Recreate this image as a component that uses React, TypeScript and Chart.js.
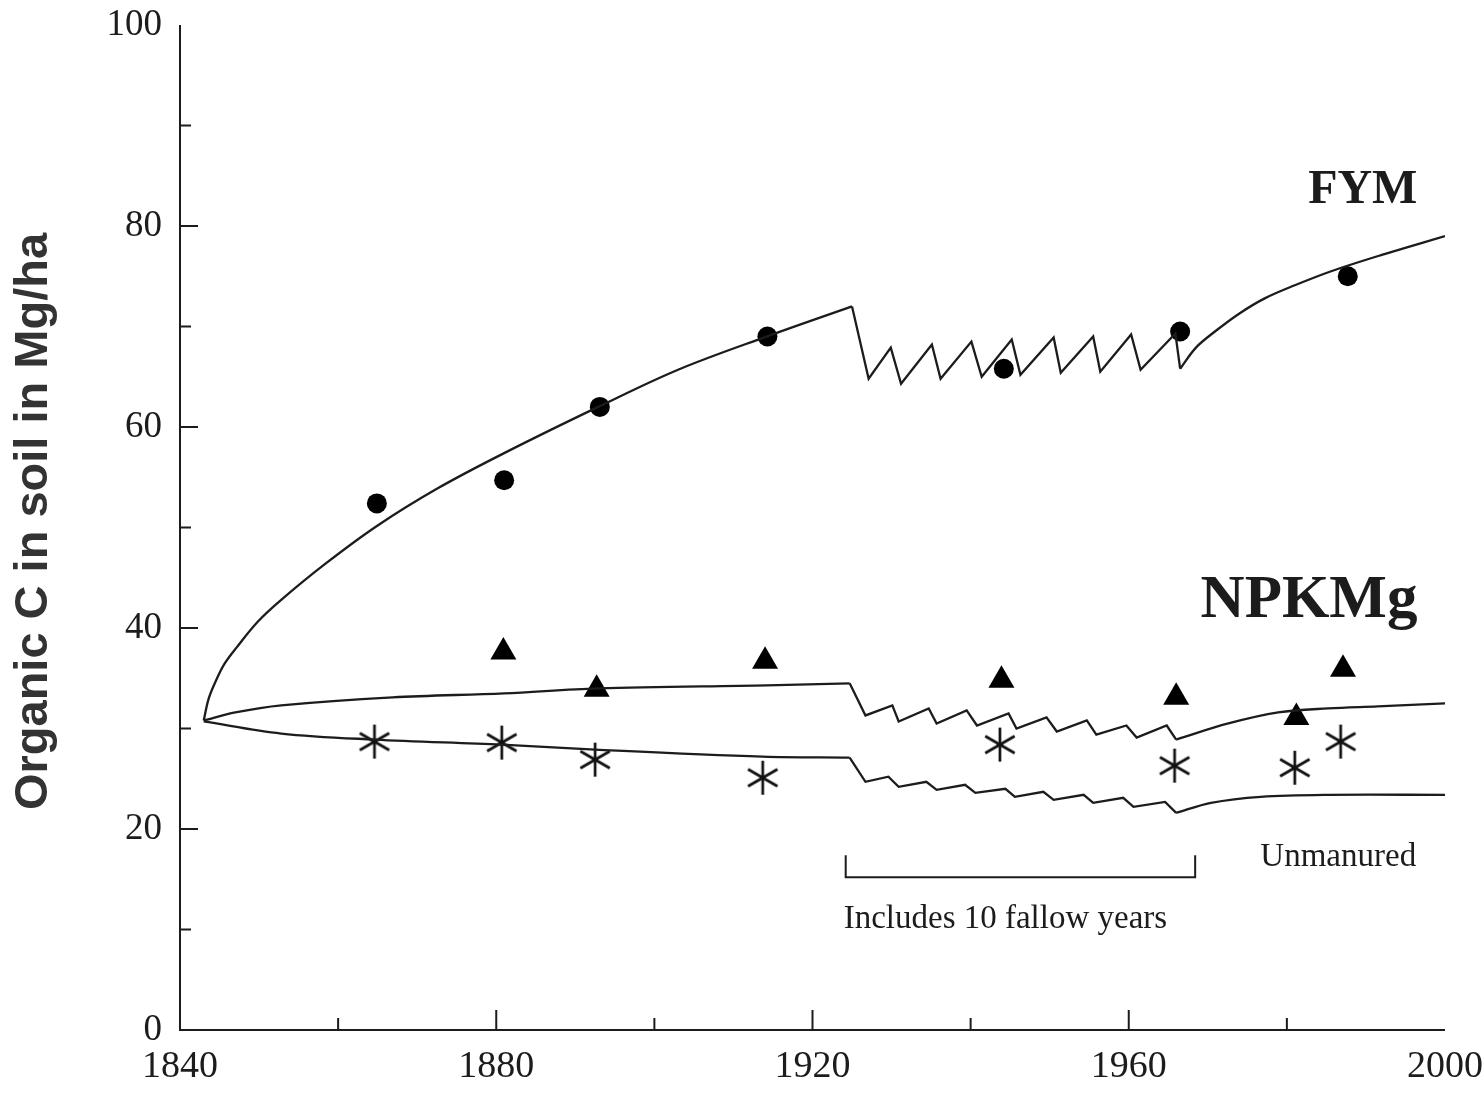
import React, { useEffect, useRef } from "react";
import { Chart, registerables } from "chart.js";

Chart.register(...registerables);

// ---- Model curves: [year, organic C (Mg/ha)] ----
const fymEarly = [
  [1843, 30.8], [1843.6, 32.9], [1844.4, 34.5], [1845.6, 36.4], [1847.2, 38.1],
  [1849.8, 40.6], [1852.8, 42.8], [1858.4, 46.4], [1865, 50.2], [1872.6, 53.9],
  [1881, 57.4], [1892.9, 62.0], [1903, 65.7], [1914.2, 69.0], [1925, 72.0],
];
const fymFallow = [
  [1925, 72.0], [1927.1, 64.8], [1929.9, 67.9], [1931.2, 64.3], [1935.1, 68.2],
  [1936.2, 64.8], [1940.1, 68.5], [1941.4, 65.0], [1945.2, 68.7], [1946.3, 65.2],
  [1950.5, 68.9], [1951.4, 65.4], [1955.5, 69.0], [1956.4, 65.5], [1960.3, 69.2],
  [1961.5, 65.7], [1965.9, 69.3], [1966.5, 65.8],
];
const fymLate = [
  [1966.5, 65.8], [1968.5, 67.9], [1970.9, 69.5], [1974, 71.3], [1977.2, 72.8],
  [1981, 74.1], [1985.6, 75.5], [1991.9, 77.1], [2000, 79.0],
];

const npkEarly = [
  [1843, 30.8], [1847, 31.6], [1852.8, 32.3], [1866.9, 33.1], [1881, 33.5],
  [1892.9, 34.0], [1914.2, 34.3], [1924.7, 34.5],
];
const npkFallow = [
  [1924.7, 34.5], [1926.7, 31.3], [1930.1, 32.3], [1930.9, 30.7], [1934.7, 32.0],
  [1935.7, 30.5], [1939.5, 31.8], [1940.8, 30.3], [1944.8, 31.5], [1945.8, 30.0],
  [1949.6, 31.1], [1950.9, 29.7], [1954.7, 30.8], [1955.9, 29.4], [1959.7, 30.3],
  [1961, 29.1], [1964.8, 30.3], [1966, 28.9],
];
const npkLate = [
  [1966, 28.9], [1972.6, 30.5], [1978.9, 31.6], [1985.2, 32.0], [1991.5, 32.2], [2000, 32.5],
];

const unmEarly = [
  [1843, 30.7], [1852.8, 29.5], [1864.6, 28.9], [1880.7, 28.4], [1892.5, 27.9],
  [1913.7, 27.2], [1924.7, 27.1],
];
const unmFallow = [
  [1924.7, 27.1], [1926.7, 24.7], [1929.6, 25.2], [1930.9, 24.2], [1934.4, 24.7],
  [1935.7, 23.9], [1939.3, 24.4], [1940.6, 23.6], [1944.4, 24.0], [1945.6, 23.2],
  [1949.2, 23.7], [1950.5, 22.9], [1954.3, 23.4], [1955.5, 22.6], [1959.3, 23.1],
  [1960.6, 22.2], [1964.6, 22.7], [1966, 21.6],
];
const unmLate = [
  [1966, 21.6], [1970.4, 22.6], [1976.7, 23.2], [1985.2, 23.4], [2000, 23.4],
];

// ---- Measured values ----
const fymObsYears = [1864.9, 1881, 1893.1, 1914.3, 1944.2, 1966.5, 1987.7];
const fymObs = [52.4, 54.7, 62.0, 69.0, 65.8, 69.5, 75.0];
const npkObsYears = [1880.9, 1892.7, 1914.0, 1943.9, 1966.0, 1981.2, 1987.1];
const npkObs = [37.6, 33.9, 36.7, 34.8, 33.1, 31.1, 35.9];
const unmObsYears = [1864.6, 1880.7, 1892.5, 1913.7, 1943.7, 1965.8, 1981.0, 1986.8];
const unmObs = [28.7, 28.6, 26.9, 25.1, 28.4, 26.3, 26.1, 28.7];

// ---- Axis ticks ----
const xLabelTicks = [1840, 1880, 1920, 1960, 2000];
const xMinorTicks = [1860, 1880, 1900, 1920, 1940, 1960, 1980];
const yLabelTicks = [0, 20, 40, 60, 80, 100];
const yMinorTicks = [10, 20, 30, 40, 50, 60, 70, 80, 90];

const INK = "#1c1c1c";

function makeAsterisk(): HTMLCanvasElement {
  const c = document.createElement("canvas");
  c.width = 40;
  c.height = 40;
  const g = c.getContext("2d")!;
  g.strokeStyle = "#111";
  g.lineWidth = 2.7;
  g.lineCap = "butt";
  const r = 17;
  for (let k = 0; k < 3; k++) {
    const a = (Math.PI / 3) * k;
    g.beginPath();
    g.moveTo(20 + Math.sin(a) * r, 20 - Math.cos(a) * r);
    g.lineTo(20 - Math.sin(a) * r, 20 + Math.cos(a) * r);
    g.stroke();
  }
  return c;
}

const pts = (arr: number[][]) => arr.map(([x, y]) => ({ x, y }));
const obs = (xs: number[], ys: number[]) => xs.map((x, i) => ({ x, y: ys[i] }));

function lineDs(arr: number[][], smooth: boolean) {
  return {
    type: "line" as const,
    data: pts(arr),
    showLine: true,
    borderColor: INK,
    borderWidth: 2.3,
    pointRadius: 0,
    fill: false,
    tension: smooth ? 0.35 : 0,
  };
}

const decorPlugin = {
  id: "decor",
  beforeDraw(chart: any) {
    const { ctx, width, height } = chart;
    ctx.save();
    ctx.fillStyle = "#fff";
    ctx.fillRect(0, 0, width, height);
    ctx.restore();
  },
  afterDraw(chart: any) {
    const { ctx, chartArea: a, scales } = chart;
    const x = scales.x;
    const y = scales.y;
    ctx.save();
    ctx.strokeStyle = INK;
    ctx.lineWidth = 2;
    ctx.beginPath();
    ctx.moveTo(a.left, a.top);
    ctx.lineTo(a.left, a.bottom);
    ctx.lineTo(a.right, a.bottom);
    for (const v of yMinorTicks) {
      const py = y.getPixelForValue(v);
      const len = yLabelTicks.includes(v) ? 18 : 11;
      ctx.moveTo(a.left, py);
      ctx.lineTo(a.left + len, py);
    }
    for (const v of xMinorTicks) {
      const px = x.getPixelForValue(v);
      const len = xLabelTicks.includes(v) ? 20 : 12;
      ctx.moveTo(px, a.bottom);
      ctx.lineTo(px, a.bottom - len);
    }
    // fallow bracket
    const bx1 = x.getPixelForValue(1924.2);
    const bx2 = x.getPixelForValue(1968.4);
    const by1 = y.getPixelForValue(17.4);
    const by2 = y.getPixelForValue(15.2);
    ctx.moveTo(bx1, by1);
    ctx.lineTo(bx1, by2);
    ctx.lineTo(bx2, by2);
    ctx.lineTo(bx2, by1);
    ctx.stroke();

    // labels
    ctx.fillStyle = INK;
    ctx.textAlign = "center";
    ctx.textBaseline = "alphabetic";
    ctx.font = "bold 48px 'Liberation Serif'";
    ctx.fillText("FYM", x.getPixelForValue(1989.6), y.getPixelForValue(82.3));
    ctx.font = "bold 61px 'Liberation Serif'";
    ctx.fillText("NPKMg", x.getPixelForValue(1982.8), y.getPixelForValue(41.1));
    ctx.font = "33px 'Liberation Serif'";
    ctx.fillText("Unmanured", x.getPixelForValue(1986.5), y.getPixelForValue(16.3));
    ctx.fillText("Includes 10 fallow years", x.getPixelForValue(1944.4), y.getPixelForValue(10.1));

    // y axis title
    ctx.save();
    ctx.translate(a.left - 146, (a.top + a.bottom) / 2 - 6);
    ctx.rotate(-Math.PI / 2);
    ctx.fillStyle = "#333";
    ctx.textBaseline = "middle";
    ctx.font = "bold 47px 'Liberation Sans'";
    ctx.fillText("Organic C in soil in Mg/ha", 0, 0);
    ctx.restore();
    ctx.restore();
  },
};

export default function App() {
  const ref = useRef<HTMLCanvasElement | null>(null);
  useEffect(() => {
    if (!ref.current) return;
    const asterisk = makeAsterisk();
    const chart = new Chart(ref.current, {
      type: "scatter",
      data: {
        datasets: [
          lineDs(fymEarly, true),
          lineDs(fymFallow, false),
          lineDs(fymLate, true),
          lineDs(npkEarly, true),
          lineDs(npkFallow, false),
          lineDs(npkLate, true),
          lineDs(unmEarly, true),
          lineDs(unmFallow, false),
          lineDs(unmLate, true),
          {
            data: obs(fymObsYears, fymObs),
            pointStyle: "circle",
            pointRadius: 10,
            backgroundColor: "#000",
            borderColor: "#000",
            borderWidth: 0,
          },
          {
            data: obs(npkObsYears, npkObs),
            pointStyle: "triangle",
            pointRadius: 15,
            backgroundColor: "#000",
            borderColor: "#000",
            borderWidth: 0,
          },
          {
            data: obs(unmObsYears, unmObs),
            pointStyle: asterisk,
            pointRadius: 17,
          },
        ] as any,
      },
      options: {
        responsive: false,
        animation: false,
        events: [],
        layout: { autoPadding: false, padding: { top: 25, right: 39, left: 0, bottom: 0 } },
        plugins: { legend: { display: false }, tooltip: { enabled: false } },
        scales: {
          x: {
            type: "linear",
            min: 1840,
            max: 2000,
            grid: { display: false, drawTicks: false },
            border: { display: false },
            afterBuildTicks: (s: any) => {
              s.ticks = xLabelTicks.map((v) => ({ value: v }));
            },
            afterFit: (s: any) => {
              s.height = 64;
              s.paddingLeft = 0;
              s.paddingRight = 0;
            },
            ticks: {
              color: INK,
              padding: 14,
              font: { family: "'Liberation Serif'", size: 38 },
              callback: (v: any) => String(v),
            },
          },
          y: {
            type: "linear",
            min: 0,
            max: 100,
            grid: { display: false, drawTicks: false },
            border: { display: false },
            afterBuildTicks: (s: any) => {
              s.ticks = yLabelTicks.map((v) => ({ value: v }));
            },
            afterFit: (s: any) => {
              s.width = 180;
              s.paddingTop = 0;
              s.paddingBottom = 0;
            },
            ticks: {
              color: INK,
              padding: 18,
              font: { family: "'Liberation Serif'", size: 37 },
              callback: (v: any) => String(v),
            },
          },
        },
      },
      plugins: [decorPlugin],
    });
    return () => chart.destroy();
  }, []);
  return (
    <div style={{ position: "absolute", left: 0, top: 0, width: 1484, height: 1094 }}>
      <canvas ref={ref} width={1484} height={1094} />
    </div>
  );
}
